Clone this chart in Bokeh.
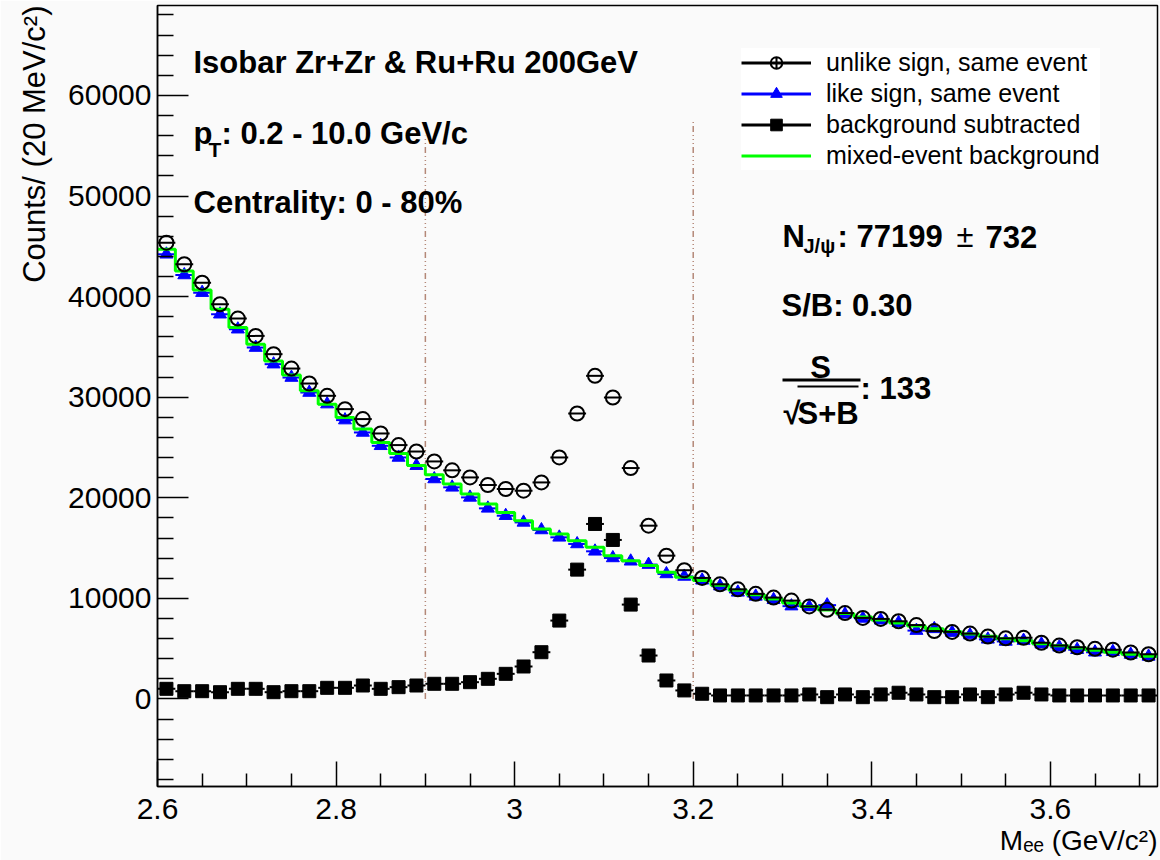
from bokeh.plotting import figure
from bokeh.models import (ColumnDataSource, Label, Legend, LegendItem, FixedTicker,
                          Range1d, BoxAnnotation, BasicTickFormatter, Title)
from bokeh.embed import file_html
from bokeh.resources import INLINE

# ---------------- data ----------------
mass = [2.61, 2.63, 2.65, 2.67, 2.69, 2.71, 2.73, 2.75, 2.77, 2.79,
        2.81, 2.83, 2.85, 2.87, 2.89, 2.91, 2.93, 2.95, 2.97, 2.99,
        3.01, 3.03, 3.05, 3.07, 3.09, 3.11, 3.13, 3.15, 3.17, 3.19,
        3.21, 3.23, 3.25, 3.27, 3.29, 3.31, 3.33, 3.35, 3.37, 3.39,
        3.41, 3.43, 3.45, 3.47, 3.49, 3.51, 3.53, 3.55, 3.57, 3.59,
        3.61, 3.63, 3.65, 3.67, 3.69, 3.71]
bin_half_width = 0.01

unlike_same = [45360, 43215, 41390, 39240, 37815, 36095, 34280, 32850, 31360, 30140,
               28815, 27825, 26395, 25240, 24600, 23615, 22730, 22025, 21270, 20873,
               20704, 21528, 24010, 28380, 32125, 29970, 22958, 17230, 14250, 12800,
               12035, 11400, 10900, 10450, 10080, 9780, 9200, 8870, 8540, 8060,
               7960, 7725, 7350, 6750, 6670, 6500, 6205, 6030, 6080, 5590,
               5310, 5145, 4985, 4900, 4620, 4450]

like_same = [44208, 42150, 40395, 38250, 36760, 34935, 33285, 31955, 30465, 29315,
             27725, 26495, 25170, 24010, 23190, 21870, 21040, 20040, 18950, 18220,
             17555, 16800, 16070, 15410, 14680, 14020, 13690, 13360, 12430, 12180,
             11800, 11220, 10600, 10200, 9860, 9230, 9150, 9330, 8420, 8010,
             7830, 7580, 6800, 6970, 6600, 6350, 5930, 5720, 5810, 5450,
             5150, 4900, 4650, 4700, 4420, 4230]

mixed_bkg = [44700, 42550, 40660, 38750, 36920, 35270, 33610, 32220, 30630, 29310,
             27980, 26830, 25500, 24410, 23220, 22280, 21370, 20380, 19380, 18550,
             17725, 16900, 16400, 15740, 15075, 14250, 13750, 13260, 12590, 12095,
             11770, 11300, 10800, 10350, 9950, 9550, 9200, 8850, 8500, 8150,
             7850, 7550, 7250, 6980, 6720, 6470, 6230, 6000, 5780, 5500,
             5280, 5060, 4850, 4650, 4450, 4250]

bkg_subtracted = [1010, 775, 775, 675, 1010, 1010, 675, 775, 775, 1110,
                  1110, 1340, 1010, 1175, 1340, 1510, 1510, 1670, 2005, 2500,
                  3230, 4650, 7795, 12860, 17400, 15810, 9385, 4320, 1840, 850,
                  520, 350, 350, 350, 350, 350, 450, 180, 450, 180,
                  450, 620, 450, 180, 180, 450, 180, 450, 620, 450,
                  350, 350, 350, 350, 350, 350]

mass_window = [2.9, 3.2]
window_line_top = [56000, 57500]

x_major_ticks = [2.6, 2.8, 3.0, 3.2, 3.4, 3.6]
x_minor_ticks = [2.65, 2.7, 2.75, 2.85, 2.9, 2.95, 3.05, 3.1, 3.15, 3.25, 3.3,
                 3.35, 3.45, 3.5, 3.55, 3.65, 3.7]
x_tick_labels = {2.6: "2.6", 2.8: "2.8", 3: "3", 3.2: "3.2", 3.4: "3.4", 3.6: "3.6"}
y_major_ticks = [0, 10000, 20000, 30000, 40000, 50000, 60000]
y_minor_ticks = [-8000, -6000, -4000, -2000, 2000, 4000, 6000, 8000, 12000, 14000,
                 16000, 18000, 22000, 24000, 26000, 28000, 32000, 34000, 36000,
                 38000, 42000, 44000, 46000, 48000, 52000, 54000, 56000, 58000,
                 62000, 64000, 66000, 68000]

x_title = "M\u2091\u2091 (GeV/c\u00b2)"
y_title = "Counts/ (20 MeV/c\u00b2)"
legend_labels = ["unlike sign, same event", "like sign, same event",
                 "background subtracted", "mixed-event background"]

# ---------------- derived (for drawing) ----------------
lo = [m - bin_half_width for m in mass]
hi = [m + bin_half_width for m in mass]
edges = lo + [hi[-1]]
mixed_steps = mixed_bkg + [mixed_bkg[-1]]

src = ColumnDataSource(data=dict(x=mass, lo=lo, hi=hi, unlike=unlike_same,
                                 like=like_same, sub=bkg_subtracted))
step_src = ColumnDataSource(data=dict(x=edges, y=mixed_steps))
win_src = ColumnDataSource(data=dict(x=mass_window, y0=[0, 0], y1=window_line_top))

BG = "#fafafa"
FONT = "Liberation Sans"

p = figure(width=1160, height=860, x_range=Range1d(2.6, 3.72), y_range=Range1d(-8700, 68940),
           output_backend="svg", toolbar_location=None,
           min_border_left=157, min_border_right=3, min_border_top=5, min_border_bottom=74)
p.background_fill_color = BG
p.border_fill_color = BG
p.grid.visible = False
p.outline_line_color = "black"
p.outline_line_width = 1.5

# axes
p.xaxis.ticker = FixedTicker(ticks=x_major_ticks, minor_ticks=x_minor_ticks)
p.xaxis.major_label_overrides = x_tick_labels
p.yaxis.ticker = FixedTicker(ticks=y_major_ticks, minor_ticks=y_minor_ticks)
p.yaxis.formatter = BasicTickFormatter(use_scientific=False)
for ax in (p.xaxis, p.yaxis):
    ax.major_tick_out = 0
    ax.minor_tick_out = 0
    ax.axis_line_color = "black"
    ax.axis_line_width = 1.5
    ax.major_tick_line_width = 1.5
    ax.minor_tick_line_width = 1.5
    ax.major_tick_line_color = "black"
    ax.minor_tick_line_color = "black"
    ax.major_label_text_font = FONT
    ax.major_label_text_font_size = "30px"
    ax.major_label_text_color = "black"
p.xaxis.major_tick_in = 25
p.xaxis.minor_tick_in = 13
p.yaxis.major_tick_in = 31
p.yaxis.minor_tick_in = 16
p.xaxis.major_label_standoff = 12
p.yaxis.major_label_standoff = 6

# axis titles as side-panel titles (right / top aligned like ROOT)
p.add_layout(Title(text=x_title, align="right", text_font=FONT, text_font_size="28px",
                   text_font_style="normal", text_color="black", standoff=2, offset=0),
             "below")
p.add_layout(Title(text=y_title, align="right", text_font=FONT, text_font_size="31px",
                   text_font_style="normal", text_color="black", standoff=28, offset=0),
             "left")

# mass window lines
p.segment(x0="x", y0="y0", x1="x", y1="y1", source=win_src, line_color="#b48878",
          line_width=1.5, line_dash="6 3 1 3 1 3 1 3")

# like sign (blue triangles)
p.segment(x0="lo", y0="like", x1="hi", y1="like", source=src, line_color="blue", line_width=2)
p.scatter("x", "like", source=src, marker="triangle", size=13, fill_color="blue",
          line_color="blue")

# mixed-event background (green histogram)
p.step("x", "y", source=step_src, mode="after", line_color="#00ff00", line_width=3)

# unlike sign (open circles)
p.segment(x0="lo", y0="unlike", x1="hi", y1="unlike", source=src, line_color="black", line_width=2)
p.scatter("x", "unlike", source=src, marker="circle", size=14, fill_color=None,
          line_color="black", line_width=2)

# background subtracted (black squares)
p.segment(x0="lo", y0="sub", x1="hi", y1="sub", source=src, line_color="black", line_width=2)
p.scatter("x", "sub", source=src, marker="square", size=13, fill_color="black",
          line_color="black")

# legend (proxy renderers holding a single undrawable point)
nan = float("nan")
proxy = ColumnDataSource(data=dict(x=[nan], y=[nan]))
l1 = p.line("x", "y", source=proxy, line_color="black", line_width=3)
m1 = p.scatter("x", "y", source=proxy, marker="circle_cross", fill_color=None,
               line_color="black", line_width=2)
l2 = p.line("x", "y", source=proxy, line_color="blue", line_width=3)
m2 = p.scatter("x", "y", source=proxy, marker="triangle", fill_color="blue", line_color="blue")
l3 = p.line("x", "y", source=proxy, line_color="black", line_width=3)
m3 = p.scatter("x", "y", source=proxy, marker="square", fill_color="black", line_color="black")
l4 = p.line("x", "y", source=proxy, line_color="#00ff00", line_width=3)

legend = Legend(items=[LegendItem(label=legend_labels[0], renderers=[l1, m1], index=0),
                       LegendItem(label=legend_labels[1], renderers=[l2, m2], index=0),
                       LegendItem(label=legend_labels[2], renderers=[l3, m3], index=0),
                       LegendItem(label=legend_labels[3], renderers=[l4], index=0)],
                location=(584, 616), glyph_width=70, glyph_height=29, label_height=29,
                spacing=2, padding=6, margin=0, label_standoff=15,
                label_text_font=FONT, label_text_font_size="25px",
                label_text_color="black",
                border_line_color=None, background_fill_color="white",
                background_fill_alpha=1.0)
p.add_layout(legend)


def lab(text, x, y, size="31px", bold=True, align="left"):
    p.add_layout(Label(text=text, x=x, y=y, x_units="screen", y_units="screen",
                       text_font=FONT, text_font_size=size,
                       text_font_style="bold" if bold else "normal",
                       text_align=align, text_baseline="alphabetic",
                       text_color="black"))


# top-left annotations
lab("Isobar Zr+Zr & Ru+Ru 200GeV", 36, 724)
lab("p", 36, 653)
lab("T", 51, 637, size="21px")
lab(": 0.2 - 10.0 GeV/c", 64, 653)
lab("Centrality: 0 - 80%", 36, 584)

# right annotations
lab("N", 625, 550)
lab("J/\u03c8", 646, 541, size="20px")
lab(": 77199", 680, 550)
lab("\u00b1", 799, 550, bold=False)
lab("732", 828, 550)
lab("S/B: 0.30", 624, 481)
lab("S", 663, 419, align="center")
p.add_layout(BoxAnnotation(left=625, right=703, bottom=405, top=408,
                           left_units="screen", right_units="screen",
                           top_units="screen", bottom_units="screen",
                           fill_color="black", fill_alpha=1.0, line_color=None))
lab("\u221a", 626, 373)
lab("S+B", 640, 373)
p.add_layout(BoxAnnotation(left=640, right=701, bottom=399, top=401,
                           left_units="screen", right_units="screen",
                           top_units="screen", bottom_units="screen",
                           fill_color="black", fill_alpha=1.0, line_color=None))
lab(": 133", 703, 398)

open("out.html", "w").write(file_html(p, INLINE))
